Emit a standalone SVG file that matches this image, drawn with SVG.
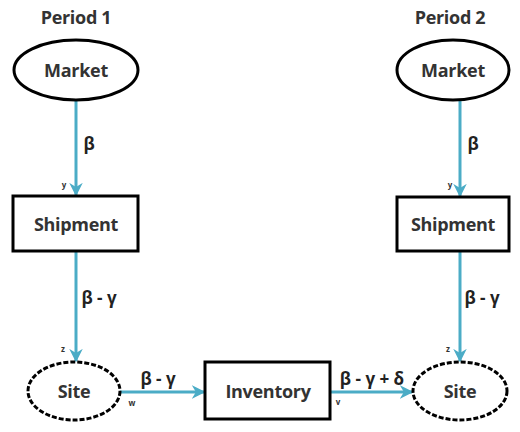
<svg xmlns="http://www.w3.org/2000/svg" width="520" height="432" viewBox="0 0 520 432">
  <defs>
    <marker id="arrow" viewBox="0 0 10 10" refX="9" refY="5" markerWidth="4.5" markerHeight="4.5" orient="auto" markerUnits="strokeWidth">
      <path d="M0,0 L10,5 L0,10 L3,5 Z" fill="#4bacc6"/>
    </marker>
    <style>
      .t { font-family: "Open Sans", "Liberation Sans", sans-serif; font-weight: bold; fill: #333; text-anchor: middle; dominant-baseline: central; }
      .node { font-size: 18px; letter-spacing: -0.3px; }
      .lbl { font-size: 17px; fill: #222; }
      .tiny { font-size: 8px; fill: #333; }
      .solid { fill: #fff; stroke: #000; stroke-width: 3; }
      .dashed { fill: #fff; stroke: #000; stroke-width: 3; stroke-dasharray: 5 2; }
      .edge { fill: none; stroke: #4bacc6; stroke-width: 3; marker-end: url(#arrow); }
    </style>
  </defs>
  <rect width="520" height="432" fill="#fff"/>

  <!-- period headings -->
  <text class="t node" x="76" y="17">Period 1</text>
  <text class="t node" x="450" y="17">Period 2</text>

  <!-- connectors -->
  <g id="edges">
    <line class="edge" x1="76" y1="101" x2="76" y2="195"/>
    <line class="edge" x1="76" y1="252" x2="76" y2="361"/>
    <line class="edge" x1="120" y1="392" x2="204" y2="392"/>
    <line class="edge" x1="331" y1="392" x2="412" y2="392"/>
    <line class="edge" x1="460" y1="101" x2="460" y2="196"/>
    <line class="edge" x1="460" y1="252" x2="460" y2="361"/>
    <text class="t lbl" x="89" y="143">β</text>
    <text class="t lbl" x="99" y="297">β - γ</text>
    <text class="t lbl" x="473" y="143">β</text>
    <text class="t lbl" x="482" y="297">β - γ</text>
    <text class="t lbl" x="158" y="378">β - γ</text>
    <text class="t lbl" x="372" y="378">β - γ + δ</text>
    <text class="t tiny" x="64" y="184">y</text>
    <text class="t tiny" x="450" y="184">y</text>
    <text class="t tiny" x="63" y="348">z</text>
    <text class="t tiny" x="448" y="348">z</text>
    <text class="t tiny" x="132" y="402">w</text>
    <text class="t tiny" x="338" y="401">v</text>
  </g>

  <g id="market1">
    <ellipse class="solid" cx="76" cy="70" rx="62" ry="30"/>
    <text class="t node" x="76" y="70">Market</text>
  </g>
  <g id="shipment1">
    <rect class="solid" x="13" y="196" width="125" height="55"/>
    <text class="t node" x="76" y="224">Shipment</text>
  </g>
  <g id="site1">
    <ellipse class="dashed" cx="74" cy="391" rx="46" ry="29"/>
    <text class="t node" x="74" y="391">Site</text>
  </g>
  <g id="inventory">
    <rect class="solid" x="205" y="362" width="125" height="57"/>
    <text class="t node" x="268" y="391">Inventory</text>
  </g>
  <g id="market2">
    <ellipse class="solid" cx="453" cy="70" rx="56" ry="30"/>
    <text class="t node" x="453" y="70">Market</text>
  </g>
  <g id="shipment2">
    <rect class="solid" x="397" y="197" width="112" height="54"/>
    <text class="t node" x="453" y="224">Shipment</text>
  </g>
  <g id="site2">
    <ellipse class="dashed" cx="460" cy="391" rx="47" ry="29"/>
    <text class="t node" x="460" y="391">Site</text>
  </g>
</svg>
